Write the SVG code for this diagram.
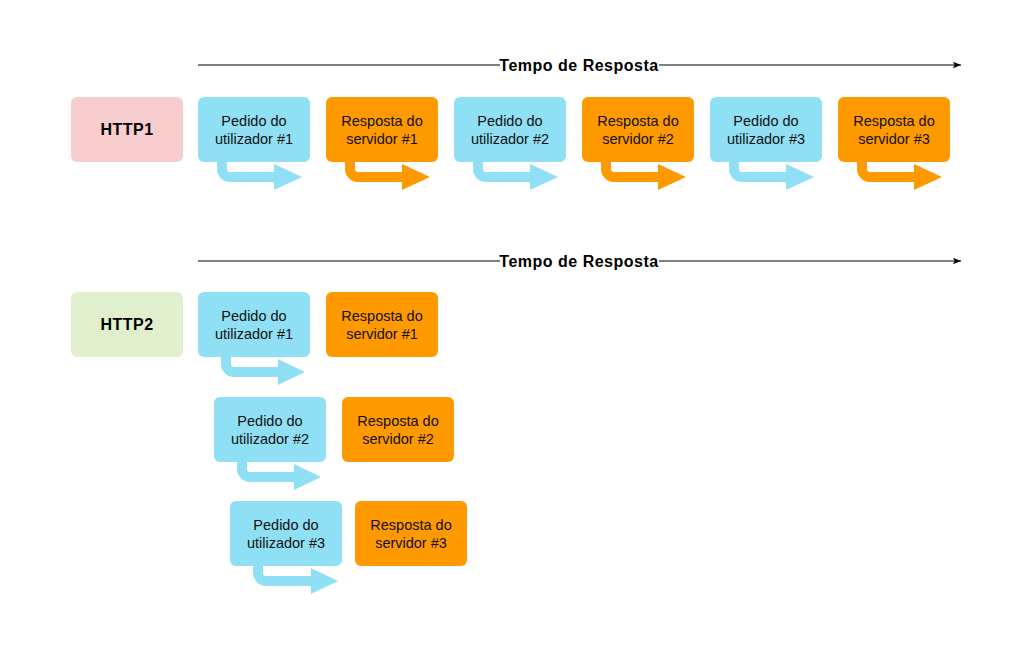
<svg xmlns="http://www.w3.org/2000/svg" width="1021" height="650" viewBox="0 0 1021 650">
<style>
.b{fill:#8FE0F5}
.o{fill:#FF9900}
.t{font-family:"Liberation Sans",Arial,sans-serif;font-size:14.5px;fill:#111;text-anchor:middle}
.h{font-family:"Liberation Sans",Arial,sans-serif;font-size:16px;font-weight:bold;fill:#000;text-anchor:middle;letter-spacing:0.5px}
.sb{fill:none;stroke:#8FE0F5;stroke-width:10}
.so{fill:none;stroke:#FF9900;stroke-width:10}
.tl{stroke:#000;stroke-width:1;fill:none}
</style>
<defs>
<marker id="ah" viewBox="0 0 10 10" refX="10" refY="5" markerWidth="8" markerHeight="8" markerUnits="userSpaceOnUse" orient="auto">
<path d="M0,1 L10,5 L0,9 L2,5 Z" fill="#000"/>
</marker>
</defs>
<rect width="1021" height="650" fill="#fff"/>
<g id="connectors">
<line class="tl" x1="198" y1="65" x2="961" y2="65" marker-end="url(#ah)"/>
<line class="tl" x1="198" y1="261" x2="961" y2="261" marker-end="url(#ah)"/>
<path class="sb" d="M222,160 V169 A8,8 0 0 0 230,177 H276"/><polygon fill="#8FE0F5" points="274,164 302,177 274,190"/>
<path class="so" d="M350,160 V169 A8,8 0 0 0 358,177 H404"/><polygon fill="#FF9900" points="402,164 430,177 402,190"/>
<path class="sb" d="M478,160 V169 A8,8 0 0 0 486,177 H532"/><polygon fill="#8FE0F5" points="530,164 558,177 530,190"/>
<path class="so" d="M606,160 V169 A8,8 0 0 0 614,177 H660"/><polygon fill="#FF9900" points="658,164 686,177 658,190"/>
<path class="sb" d="M734,160 V169 A8,8 0 0 0 742,177 H788"/><polygon fill="#8FE0F5" points="786,164 814,177 786,190"/>
<path class="so" d="M862,160 V169 A8,8 0 0 0 870,177 H916"/><polygon fill="#FF9900" points="914,164 942,177 914,190"/>
<path class="sb" d="M226,355 V364 A8,8 0 0 0 234,372 H280"/><polygon fill="#8FE0F5" points="278,359 305,372 278,385"/>
<path class="sb" d="M242,460 V469 A8,8 0 0 0 250,477 H296"/><polygon fill="#8FE0F5" points="294,464 321,477 294,490"/>
<path class="sb" d="M258,564 V573 A8,8 0 0 0 266,581 H313"/><polygon fill="#8FE0F5" points="311,568 338,581 311,594"/>
</g>
<g id="label-tempo1"><rect x="500" y="56" width="159" height="18" fill="#fff"/><text class="h" x="579" y="71">Tempo de Resposta</text></g>
<g id="label-tempo2"><rect x="500" y="252" width="159" height="18" fill="#fff"/><text class="h" x="579" y="267">Tempo de Resposta</text></g>
<g id="http1"><rect x="71" y="97" width="112" height="65" rx="6" fill="#F8CDCD"/><text class="h" x="127" y="135">HTTP1</text></g>
<g id="http2"><rect x="71" y="292" width="112" height="65" rx="6" fill="#E1EFCC"/><text class="h" x="127" y="330">HTTP2</text></g>
<g id="h1-p1"><rect class="b" x="198" y="97" width="112" height="65" rx="6"/><text class="t" x="254" y="126">Pedido do</text><text class="t" x="254" y="144">utilizador #1</text></g>
<g id="h1-r1"><rect class="o" x="326" y="97" width="112" height="65" rx="6"/><text class="t" x="382" y="126">Resposta do</text><text class="t" x="382" y="144">servidor #1</text></g>
<g id="h1-p2"><rect class="b" x="454" y="97" width="112" height="65" rx="6"/><text class="t" x="510" y="126">Pedido do</text><text class="t" x="510" y="144">utilizador #2</text></g>
<g id="h1-r2"><rect class="o" x="582" y="97" width="112" height="65" rx="6"/><text class="t" x="638" y="126">Resposta do</text><text class="t" x="638" y="144">servidor #2</text></g>
<g id="h1-p3"><rect class="b" x="710" y="97" width="112" height="65" rx="6"/><text class="t" x="766" y="126">Pedido do</text><text class="t" x="766" y="144">utilizador #3</text></g>
<g id="h1-r3"><rect class="o" x="838" y="97" width="112" height="65" rx="6"/><text class="t" x="894" y="126">Resposta do</text><text class="t" x="894" y="144">servidor #3</text></g>
<g id="h2-p1"><rect class="b" x="198" y="292" width="112" height="65" rx="6"/><text class="t" x="254" y="321">Pedido do</text><text class="t" x="254" y="339">utilizador #1</text></g>
<g id="h2-r1"><rect class="o" x="326" y="292" width="112" height="65" rx="6"/><text class="t" x="382" y="321">Resposta do</text><text class="t" x="382" y="339">servidor #1</text></g>
<g id="h2-p2"><rect class="b" x="214" y="397" width="112" height="65" rx="6"/><text class="t" x="270" y="426">Pedido do</text><text class="t" x="270" y="444">utilizador #2</text></g>
<g id="h2-r2"><rect class="o" x="342" y="397" width="112" height="65" rx="6"/><text class="t" x="398" y="426">Resposta do</text><text class="t" x="398" y="444">servidor #2</text></g>
<g id="h2-p3"><rect class="b" x="230" y="501" width="112" height="65" rx="6"/><text class="t" x="286" y="530">Pedido do</text><text class="t" x="286" y="548">utilizador #3</text></g>
<g id="h2-r3"><rect class="o" x="355" y="501" width="112" height="65" rx="6"/><text class="t" x="411" y="530">Resposta do</text><text class="t" x="411" y="548">servidor #3</text></g>
</svg>
